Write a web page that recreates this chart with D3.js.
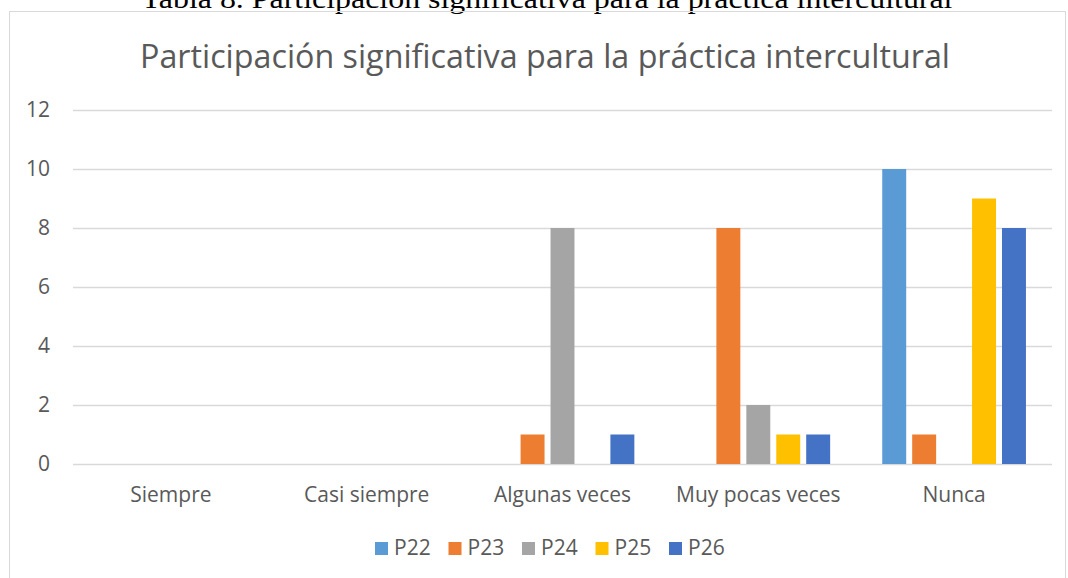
<!DOCTYPE html>
<html>
<head>
<meta charset="utf-8">
<title>Participación</title>
<script src="https://cdn.jsdelivr.net/npm/d3@7"></script>
<style>
  body { margin: 0; background: #fff; }
  svg { display: block; }
  .tick text, .lbl { fill: #595959; font-family: "Open Sans", "Noto Sans", sans-serif; }
</style>
</head>
<body>
<script>
var categories = ["Siempre", "Casi siempre", "Algunas veces", "Muy pocas veces", "Nunca"];
var seriesNames = ["P22", "P23", "P24", "P25", "P26"];
var P22 = [0, 0, 0, 0, 10];
var P23 = [0, 0, 1, 8, 1];
var P24 = [0, 0, 8, 2, 0];
var P25 = [0, 0, 0, 1, 9];
var P26 = [0, 0, 1, 1, 8];
var yTicks = [0, 2, 4, 6, 8, 10, 12];
var colors = ["#5B9BD5", "#ED7D31", "#A5A5A5", "#FFC000", "#4472C4"];

var seriesValues = [P22, P23, P24, P25, P26];
var width = 1068, height = 578;

var svg = d3.select("body").append("svg")
    .attr("width", width)
    .attr("height", height);

// caption above the chart box (cut off at the top)
svg.append("text")
    .attr("x", 547).attr("y", 8)
    .attr("text-anchor", "middle")
    .attr("textLength", 811)
    .attr("lengthAdjust", "spacingAndGlyphs")
    .style("font-family", "'Liberation Serif', 'Times New Roman', serif")
    .style("font-size", "27px")
    .style("fill", "#000")
    .text("Tabla 8. Participación significativa para la práctica intercultural");

// chart border
svg.append("rect")
    .attr("x", 9.5).attr("y", 11.5)
    .attr("width", 1056).attr("height", 600)
    .attr("fill", "none")
    .attr("stroke", "#d9d9d9");

svg.append("text")
    .attr("class", "lbl")
    .attr("x", 545).attr("y", 68)
    .attr("text-anchor", "middle")
    .attr("textLength", 810)
    .attr("lengthAdjust", "spacingAndGlyphs")
    .style("font-size", "32px")
    .text("Participación significativa para la práctica intercultural");

var x0 = d3.scaleBand().domain(categories).range([73, 1052]);
var x1 = d3.scaleBand().domain(seriesNames).range([0, x0.bandwidth()])
    .paddingInner(0.2).paddingOuter(0.87);
var y = d3.scaleLinear().domain([0, 12]).range([464, 110]);

// gridlines
svg.append("g").selectAll("line")
    .data(yTicks)
    .enter().append("line")
    .attr("x1", 73).attr("x2", 1052)
    .attr("y1", function(d) { return Math.round(y(d)) + 0.5; })
    .attr("y2", function(d) { return Math.round(y(d)) + 0.5; })
    .attr("stroke", "#d9d9d9")
    .attr("stroke-width", 1.3);

var yAxis = svg.append("g")
    .attr("transform", "translate(73,0)")
    .call(d3.axisLeft(y).tickValues(yTicks).tickSize(0).tickPadding(23));
yAxis.select(".domain").remove();
yAxis.selectAll("text").style("font-size", "21px");

var xAxis = svg.append("g")
    .attr("transform", "translate(0,464)")
    .call(d3.axisBottom(x0).tickSize(0).tickPadding(23));
xAxis.select(".domain").remove();
xAxis.selectAll("text").style("font-size", "21px");

// bars
var groups = svg.append("g").selectAll("g")
    .data(categories)
    .enter().append("g")
    .attr("transform", function(c) { return "translate(" + x0(c) + ",0)"; });

groups.selectAll("rect")
    .data(function(c, i) {
      return seriesNames.map(function(s, j) { return { s: s, v: seriesValues[j][i], c: colors[j] }; });
    })
    .enter().append("rect")
    .filter(function(d) { return d.v > 0; })
    .attr("x", function(d) { return x1(d.s); })
    .attr("width", x1.bandwidth())
    .attr("y", function(d) { return y(d.v); })
    .attr("height", function(d) { return y(0) - y(d.v); })
    .attr("fill", function(d) { return d.c; });

// legend
var legend = svg.append("g").selectAll("g")
    .data(seriesNames)
    .enter().append("g")
    .attr("transform", function(d, i) { return "translate(" + (375 + i * 73.5) + ",542)"; });

legend.append("rect")
    .attr("width", 13).attr("height", 13)
    .attr("fill", function(d, i) { return colors[i]; });

legend.append("text")
    .attr("class", "lbl")
    .attr("x", 19).attr("y", 13)
    .style("font-size", "21px")
    .text(function(d) { return d; });
</script>
</body>
</html>
